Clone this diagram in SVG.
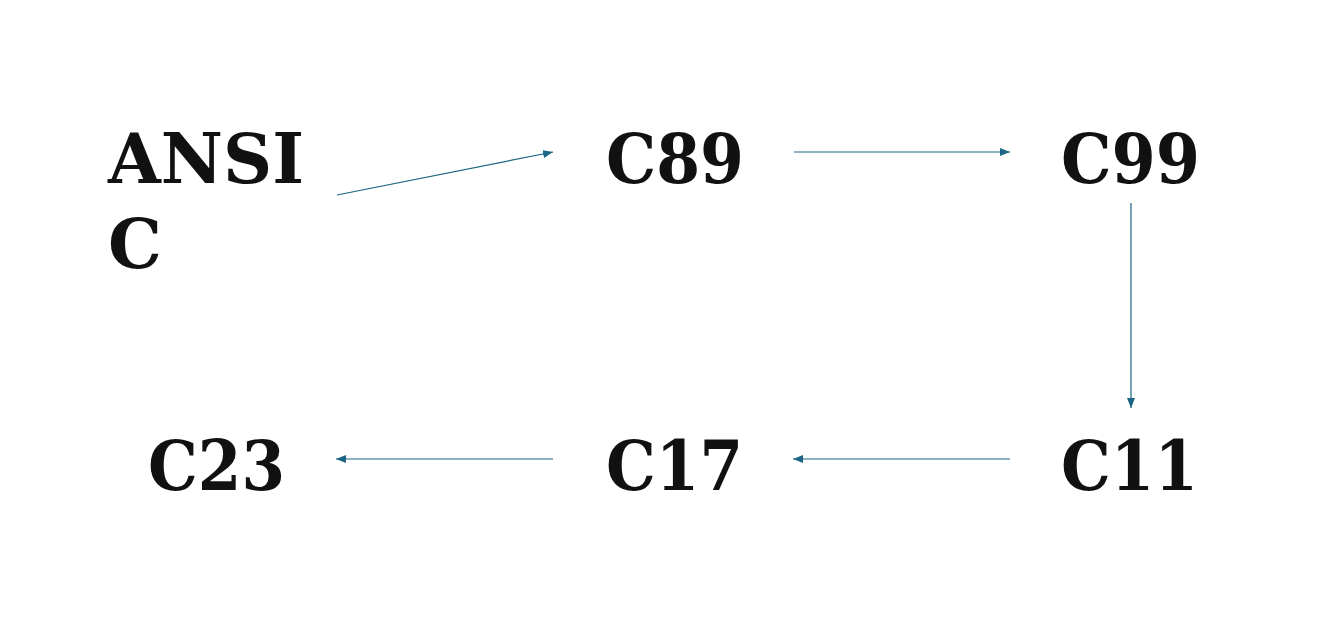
<svg xmlns="http://www.w3.org/2000/svg" width="1336" height="632" viewBox="0 0 1336 632">
<style>
.t{font-family:"DejaVu Serif","Liberation Serif",serif;font-weight:bold;font-size:70px;fill:#111}
.e{stroke:#1d6585;stroke-width:1.2;fill:none;marker-end:url(#ah)}
</style>
<defs>
<marker id="ah" viewBox="0 0 10 8" refX="10" refY="4" markerWidth="10" markerHeight="8" markerUnits="userSpaceOnUse" orient="auto">
<path d="M0,0 L10,4 L0,8 Z" fill="#1d6585"/>
</marker>
</defs>
<rect width="1336" height="632" fill="#fff"/>
<g id="edges">
<line class="e" x1="337" y1="195" x2="553" y2="152"/>
<line class="e" x1="794" y1="152" x2="1010" y2="152"/>
<line class="e" x1="1131" y1="203" x2="1131" y2="408"/>
<line class="e" x1="1010" y1="459" x2="793" y2="459"/>
<line class="e" x1="553" y1="459" x2="336" y2="459"/>
</g>
<g id="ansi"><text class="t" x="108" y="183" textLength="196" lengthAdjust="spacingAndGlyphs">ANSI</text><text class="t" x="108" y="268" textLength="54" lengthAdjust="spacingAndGlyphs">C</text></g>
<g id="c89"><text class="t" x="606" y="183" textLength="138" lengthAdjust="spacingAndGlyphs">C89</text></g>
<g id="c99"><text class="t" x="1061" y="183" textLength="139" lengthAdjust="spacingAndGlyphs">C99</text></g>
<g id="c11"><text class="t" x="1061" y="490" textLength="137" lengthAdjust="spacingAndGlyphs">C11</text></g>
<g id="c17"><text class="t" x="606" y="490" textLength="137" lengthAdjust="spacingAndGlyphs">C17</text></g>
<g id="c23"><text class="t" x="148" y="490" textLength="137" lengthAdjust="spacingAndGlyphs">C23</text></g>
</svg>
